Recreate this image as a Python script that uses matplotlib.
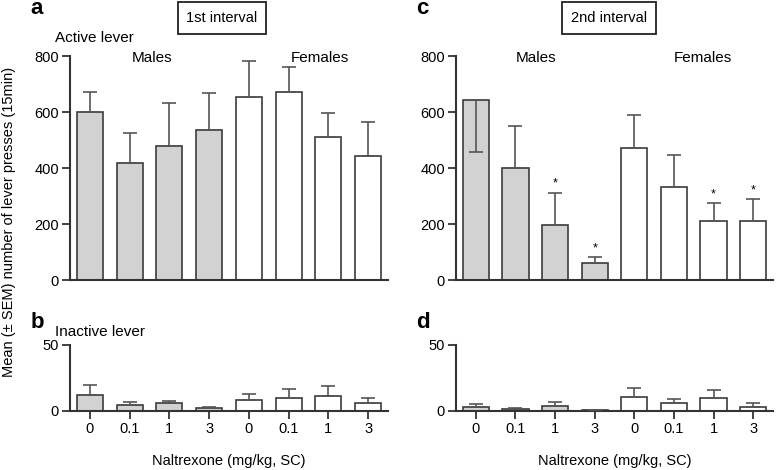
import matplotlib
matplotlib.use("Agg")
import matplotlib.pyplot as plt
import numpy as np

plt.rcParams['font.family'] = ['Liberation Sans', 'DejaVu Sans']
plt.rcParams['font.size'] = 10.5

doses = ["0", "0.1", "1", "3", "0", "0.1", "1", "3"]
sex = ["M", "M", "M", "M", "F", "F", "F", "F"]

# 1st interval, active lever
act1_mean = [600, 417, 480, 537, 655, 670, 510, 444]
act1_sem = [70, 108, 152, 132, 128, 90, 85, 121]
# 2nd interval, active lever (first bar SEM drawn downwards)
act2_mean = [643, 399, 196, 60, 473, 333, 212, 212]
act2_sem_lo = [185, 0, 0, 0, 0, 0, 0, 0]
act2_sem_hi = [0, 151, 116, 21, 118, 113, 62, 77]
act2_star = [False, False, True, True, False, False, True, True]
# inactive lever
ina1_mean = [12, 4.3, 5.8, 2.3, 8.6, 9.9, 11.6, 6.3]
ina1_sem = [8, 2.5, 2, 0.4, 4.3, 7, 7.6, 3.3]
ina2_mean = [3.3, 1.5, 4, 0.4, 10.6, 6, 9.6, 3.3]
ina2_sem = [2.3, 1, 2.8, 0, 7, 3.3, 6.6, 2.7]

grey = "#d2d2d2"
edge = "#3c3c3c"
W, H = 776, 470

fig = plt.figure(figsize=(W / 100, H / 100), dpi=100)


def px(x0, y0, x1, y1):
    # pixel box -> figure fraction
    return [x0 / W, 1 - y1 / H, (x1 - x0) / W, (y1 - y0) / H]


def draw(ax, mean, lo, hi, ymax, yticks, bottom):
    x = np.arange(len(mean))
    colors = [grey if s == "M" else "white" for s in sex]
    ax.bar(x, mean, width=0.66, color=colors, edgecolor=edge, linewidth=1.2, zorder=2)
    ax.errorbar(x, mean, yerr=[lo, hi], fmt="none", ecolor="#555555",
                elinewidth=1.2, capsize=5, capthick=1.2, zorder=3)
    ax.set_xlim(-0.5, 7.5)
    ax.set_ylim(0, ymax)
    ax.set_yticks(yticks)
    for s in ["top", "right"]:
        ax.spines[s].set_visible(False)
    for s in ["left", "bottom"]:
        ax.spines[s].set_linewidth(1.5)
        ax.spines[s].set_color("#333333")
    ax.tick_params(axis="y", direction="out", length=6, width=1.3, color="#333333", pad=2)
    ax.patch.set_alpha(0)
    if bottom:
        ax.set_xticks(x)
        ax.set_xticklabels(doses)
        ax.tick_params(axis="x", direction="out", length=6, width=1.3, color="#333333", pad=2)
        ax.set_xlabel("Naltrexone (mg/kg, SC)", labelpad=13)
    else:
        ax.set_xticks([])


zero = [0] * 8
ax_a = fig.add_axes(px(70, 56, 388, 280))
draw(ax_a, act1_mean, zero, act1_sem, 800, [0, 200, 400, 600, 800], False)
ax_b = fig.add_axes(px(70, 345, 388, 411))
draw(ax_b, ina1_mean, zero, ina1_sem, 50, [0, 50], True)
ax_c = fig.add_axes(px(456, 56, 773, 280))
draw(ax_c, act2_mean, act2_sem_lo, act2_sem_hi, 800, [0, 200, 400, 600, 800], False)
ax_d = fig.add_axes(px(456, 345, 773, 411))
draw(ax_d, ina2_mean, zero, ina2_sem, 50, [0, 50], True)

for i, st in enumerate(act2_star):
    if st:
        ax_c.annotate("*", (i, act2_mean[i] + act2_sem_hi[i]), xytext=(0, 2),
                      textcoords="offset points", ha="center", va="bottom", fontsize=9)


def ftext(x, y, s, **kw):
    fig.text(x / W, 1 - y / H, s, **kw)


ftext(37, 9, "a", fontsize=16, fontweight="bold", ha="center", va="center")
ftext(422, 9, "c", fontsize=16, fontweight="bold", ha="center", va="center")
ftext(37, 323, "b", fontsize=16, fontweight="bold", ha="center", va="center")
ftext(423, 322, "d", fontsize=16, fontweight="bold", ha="center", va="center")

box = dict(boxstyle="square,pad=0.6", facecolor="white", edgecolor="#222222", linewidth=1.3)
ftext(222, 18, "1st interval", ha="center", va="center", bbox=box)
ftext(609, 18, "2nd interval", ha="center", va="center", bbox=box)

ftext(55, 38, "Active lever", ha="left", va="center", fontsize=11)
ftext(55, 332, "Inactive lever", ha="left", va="center", fontsize=11)
ftext(152, 58, "Males", ha="center", va="center", fontsize=11)
ftext(320, 58, "Females", ha="center", va="center", fontsize=11)
ftext(536, 58, "Males", ha="center", va="center", fontsize=11)
ftext(703, 58, "Females", ha="center", va="center", fontsize=11)

ftext(9, 222, "Mean (\u00b1 SEM) number of lever presses (15min)", rotation=90,
      ha="center", va="center")

fig.savefig("out.png", dpi=100)
